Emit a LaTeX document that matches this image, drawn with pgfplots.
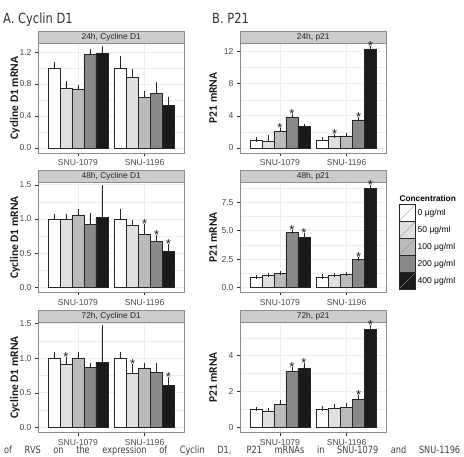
\documentclass[border=0pt]{standalone}
\usepackage{fontspec}
\setmainfont{Liberation Sans}
\newfontfamily\labelfont{Carlito}
\newfontfamily\headfont[FakeStretch=0.82]{DejaVu Sans}
\usepackage{pgfplots}
\usepackage{pgfplotstable}
\pgfplotsset{compat=1.18}

% fill shades for the five concentrations (0, 50, 100, 200, 400 ug/ml)
\definecolor{c0}{HTML}{FFFFFF}
\definecolor{c1}{HTML}{E0E0E0}
\definecolor{c2}{HTML}{BBBBBB}
\definecolor{c3}{HTML}{898989}
\definecolor{c4}{HTML}{1A1A1A}
\definecolor{stripgrey}{HTML}{CCCCCC}
\definecolor{bordergrey}{HTML}{8C8C8C}
\definecolor{gridgrey}{HTML}{EDEDED}
\definecolor{textgrey}{HTML}{4D4D4D}

% long format: g = cell line (1 = SNU-1079, 2 = SNU-1196), k = concentration index,
% y = relative mRNA, e = error, s = significant (1 = star)
\pgfplotstableread{
g k y e s
1 0 1.00 0.05 0
1 1 0.75 0.06 0
1 2 0.74 0.025 0
1 3 1.17 0.035 0
1 4 1.18 0.07 0
2 0 1.00 0.12 0
2 1 0.89 0.07 0
2 2 0.63 0.05 0
2 3 0.68 0.12 0
2 4 0.53 0.085 0
}\cycA
\pgfplotstableread{
g k y e s
1 0 1.00 0.04 0
1 1 0.99 0.05 0
1 2 1.06 0.05 0
1 3 0.92 0.14 0
1 4 1.02 0.44 0
2 0 1.00 0.11 0
2 1 0.91 0.04 0
2 2 0.78 0.12 1
2 3 0.67 0.06 1
2 4 0.53 0.07 1
}\cycB
\pgfplotstableread{
g k y e s
1 0 1.00 0.05 0
1 1 0.91 0.08 1
1 2 1.00 0.05 0
1 3 0.87 0.03 0
1 4 0.94 0.50 0
2 0 1.00 0.05 0
2 1 0.78 0.10 1
2 2 0.86 0.04 0
2 3 0.79 0.11 0
2 4 0.61 0.09 1
}\cycC
\pgfplotstableread{
g k y e s
1 0 1.00 0.05 0
1 1 0.90 0.40 0
1 2 2.14 0.08 1
1 3 3.87 0.12 1
1 4 2.72 0.05 0
2 0 1.00 0.12 0
2 1 1.44 0.06 1
2 2 1.52 0.07 0
2 3 3.50 0.12 1
2 4 12.30 0.12 1
}\pA
\pgfplotstableread{
g k y e s
1 0 0.90 0.04 0
1 1 1.06 0.05 0
1 2 1.24 0.05 0
1 3 4.85 0.06 1
1 4 4.40 0.20 1
2 0 0.90 0.08 0
2 1 1.06 0.04 0
2 2 1.18 0.03 0
2 3 2.45 0.08 1
2 4 8.70 0.10 1
}\pB
\pgfplotstableread{
g k y e s
1 0 1.00 0.03 0
1 1 0.92 0.04 0
1 2 1.30 0.12 0
1 3 3.13 0.09 1
1 4 3.29 0.18 1
2 0 1.00 0.06 0
2 1 1.05 0.14 0
2 2 1.12 0.11 0
2 3 1.58 0.08 1
2 4 5.45 0.12 1
}\pC

\pgfplotsset{
  facet/.style={
    scale only axis, width=146.5pt, height=110pt,
    anchor=south west,
    xmin=0.4, xmax=2.6,
    xtick={1,2}, xticklabels={SNU-1079,SNU-1196},
    tick pos=left, tick align=outside,
    major tick length=3pt, minor tick length=0pt,
    tick style={black!80, line width=0.5pt},
    axis line style={bordergrey, line width=0.5pt},
    xmajorgrids, ymajorgrids, yminorgrids,
    major grid style={gridgrey, line width=0.6pt},
    minor grid style={gridgrey, line width=0.3pt},
    ticklabel style={font=\fontsize{8.6}{10}\selectfont, text=textgrey},
    /pgf/number format/assume math mode=true,
    clip=false,
  },
  onedec/.style={/pgf/number format/fixed, /pgf/number format/fixed zerofill,
    /pgf/number format/precision=1},
  barplot/.style={ybar, bar width=0.18, bar shift=0pt, forget plot,
    draw=black!85, line width=0.4pt,
    error bars/y dir=plus, error bars/y explicit, error bars/error mark=-,
    error bars/error mark options={black!85, line width=0.5pt, mark size=2.2pt},
    error bars/error bar style={black!85, line width=0.5pt}},
  starplot/.style={forget plot, draw=none, nodes near coords={*},
    every node near coord/.append style={font=\fontsize{13}{13}\selectfont,
      inner sep=0pt, text=black!90, yshift=-2.5pt}},
}

% five dodged bars per cell line, then the significance stars
\newcommand\facetbars[1]{%
  \addplot[barplot, fill=c0, restrict expr to domain={\thisrow{k}}{0:0}]
    table[x expr=\thisrow{g}-0.36, y=y, y error=e] {#1};
  \addplot[barplot, fill=c1, restrict expr to domain={\thisrow{k}}{1:1}]
    table[x expr=\thisrow{g}-0.18, y=y, y error=e] {#1};
  \addplot[barplot, fill=c2, restrict expr to domain={\thisrow{k}}{2:2}]
    table[x expr=\thisrow{g}, y=y, y error=e] {#1};
  \addplot[barplot, fill=c3, restrict expr to domain={\thisrow{k}}{3:3}]
    table[x expr=\thisrow{g}+0.18, y=y, y error=e] {#1};
  \addplot[barplot, fill=c4, restrict expr to domain={\thisrow{k}}{4:4}]
    table[x expr=\thisrow{g}+0.36, y=y, y error=e] {#1};
  \addplot[starplot, restrict expr to domain={\thisrow{s}}{1:1}]
    table[x expr=\thisrow{g}+0.18*\thisrow{k}-0.36, y expr=\thisrow{y}+\thisrow{e}] {#1};
}
% grey facet strip above the panel
\newcommand\facetstrip[1]{%
  \draw[bordergrey, line width=0.5pt, fill=stripgrey]
    (rel axis cs:0,1) rectangle ([yshift=12pt]rel axis cs:1,1);
  \node[font=\fontsize{8.4}{10}\selectfont, text=black!85, inner sep=0pt]
    at ([yshift=6pt]rel axis cs:0.5,1) {#1};
}
\newcommand\ylab[2]{%
  \node[rotate=90, inner sep=0pt, text=black!90,
        font=\labelfont\bfseries\fontsize{11.5}{12}\selectfont]
    at ([xshift=-#2]rel axis cs:0,0.5) {#1};
}
\newcommand\legkey[1]{%
  \draw[fill=#1, draw=black!85, line width=0.4pt] (0pt,-8.3pt) rectangle (16.6pt,8.3pt);
  \draw[black!45, line width=0.4pt] (0.8pt,-7.5pt) -- (15.8pt,7.5pt);
}

\begin{document}
\begin{tikzpicture}
\useasboundingbox (0pt,0pt) rectangle (464pt,456pt);

\node[anchor=base west, inner sep=0pt, text=black!80,
      font=\headfont\fontsize{14}{14}\selectfont] at (3pt,432.5pt) {A. Cyclin D1};
\node[anchor=base west, inner sep=0pt, text=black!80,
      font=\headfont\fontsize{14}{14}\selectfont] at (212pt,432.5pt) {B. P21};

% ---- Cyclin D1 ----
\begin{axis}[facet, at={(38pt,303pt)}, ymin=-0.0625, ymax=1.3125,
  ytick={0,0.4,0.8,1.2}, minor ytick={0.2,0.6,1.0}, onedec]
\facetbars{\cycA}
\facetstrip{24h, Cycline D1}
\ylab{Cycline D1 mRNA}{23pt}
\end{axis}

\begin{axis}[facet, at={(38pt,163.5pt)}, ymin=-0.073, ymax=1.533,
  ytick={0,0.5,1,1.5}, minor ytick={0.25,0.75,1.25}, onedec]
\facetbars{\cycB}
\facetstrip{48h, Cycline D1}
\ylab{Cycline D1 mRNA}{23pt}
\end{axis}

\begin{axis}[facet, at={(38pt,23.5pt)}, ymin=-0.072, ymax=1.512,
  ytick={0,0.5,1,1.5}, minor ytick={0.25,0.75,1.25}, onedec]
\facetbars{\cycC}
\facetstrip{72h, Cycline D1}
\ylab{Cycline D1 mRNA}{23pt}
\end{axis}

% ---- P21 ----
\begin{axis}[facet, at={(240pt,303pt)}, ymin=-0.62, ymax=13.04,
  ytick={0,4,8,12}, minor ytick={2,6,10}]
\facetbars{\pA}
\facetstrip{24h, p21}
\ylab{P21 mRNA}{27pt}
\end{axis}

\begin{axis}[facet, at={(240pt,163.5pt)}, ymin=-0.44, ymax=9.24,
  ytick={0,2.5,5,7.5}, minor ytick={1.25,3.75,6.25,8.75}, onedec,
  legend style={at={(1.082,0.802)}, anchor=north west, draw=none, fill=none,
    inner sep=0pt, row sep=0pt, column sep=2pt,
    font=\fontsize{8.5}{10}\selectfont, nodes={inner sep=0pt}},
  legend cell align=left]
\facetbars{\pB}
\facetstrip{48h, p21}
\ylab{P21 mRNA}{27pt}
\addlegendimage{legend image code/.code={\legkey{c0}}}\addlegendentry{0 μg/ml}
\addlegendimage{legend image code/.code={\legkey{c1}}}\addlegendentry{50 μg/ml}
\addlegendimage{legend image code/.code={\legkey{c2}}}\addlegendentry{100 μg/ml}
\addlegendimage{legend image code/.code={\legkey{c3}}}\addlegendentry{200 μg/ml}
\addlegendimage{legend image code/.code={\legkey{c4}}}\addlegendentry{400 μg/ml}
\node[anchor=base west, inner sep=0pt, font=\bfseries\fontsize{8.3}{10}\selectfont]
  at (rel axis cs:1.088,0.827) {Concentration};
\end{axis}

\begin{axis}[facet, at={(240pt,23.5pt)}, ymin=-0.28, ymax=5.85,
  ytick={0,2,4}, minor ytick={1,3,5}]
\facetbars{\pC}
\facetstrip{72h, p21}
\ylab{P21 mRNA}{27pt}
\end{axis}

% running caption line along the lower edge
\node[anchor=base west, inner sep=0pt, text=black!75,
      font=\headfont\fontsize{10}{10}\selectfont] at (4pt,2.8pt)
  {\makebox[456pt][s]{of RVS on the expression of Cyclin D1, P21 mRNAs in SNU-1079 and SNU-1196}};
\end{tikzpicture}
\end{document}
